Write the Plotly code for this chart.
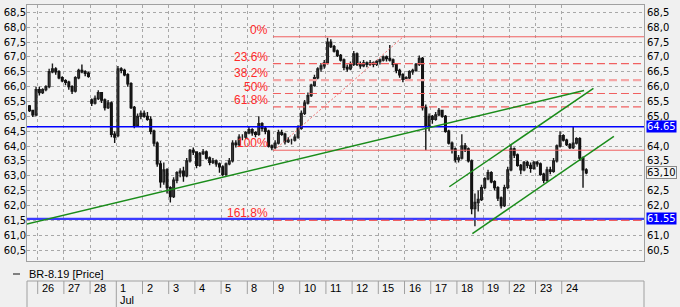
import plotly.graph_objects as go

# ---------------- data ----------------
day_labels = ["25", "26", "27", "28", "1", "2", "3", "4", "5", "8", "9", "10",
              "11", "12", "15", "16", "17", "18", "19", "22", "23", "24"]
month_labels = ["Jul"]
month_start_day = [3]
bars_per_day = [3] + [8] * 21

opens = [
    65.35, 65.2, 65.05,
    65.9, 65.8, 65.9, 66.0, 66.5, 66.6, 66.5, 66.3,
    66.2, 66.15, 66.0, 65.85, 66.3, 66.55, 66.5, 66.45,
    65.55, 65.45, 65.6, 65.8, 65.55, 65.3, 65.45, 64.4,
    64.35, 66.6, 66.55, 66.4, 66.1, 65.3, 64.7, 65.0,
    65.1, 65.0, 64.9, 64.5, 64.1, 63.4, 62.8, 63.2,
    62.6, 62.3, 62.85, 63.1, 63.15, 63.0, 63.5, 63.85,
    63.8, 63.35, 63.75, 63.8, 63.6, 63.45, 63.5, 63.4,
    63.3, 63.05, 63.4, 63.5, 64.1, 64.05, 64.3, 64.3,
    64.45, 64.55, 64.45, 64.4, 64.75, 64.6, 64.5, 64.0,
    63.95, 64.1, 64.45, 64.4, 64.15, 64.2, 64.2, 64.3,
    64.6, 65.1, 65.45, 65.7, 66.05, 66.3, 66.6, 66.7,
    66.8, 67.5, 67.35, 67.2, 67.05, 66.9, 66.65, 66.6,
    66.75, 67.1, 66.75, 66.7, 66.8, 66.75, 66.8, 66.75,
    66.85, 66.9, 67.0, 66.95, 66.9, 66.75, 66.55, 66.4,
    66.25, 66.3, 66.5, 66.55, 66.75, 66.95, 65.3, 64.7,
    65.0, 64.9, 65.05, 65.2, 65.0, 64.5, 64.1, 63.9,
    63.55, 63.6, 64.0, 63.9, 63.5, 61.9, 62.1, 62.2,
    62.6, 62.9, 63.1, 62.8, 62.6, 62.25, 62.0, 62.6,
    63.2, 63.9, 63.7, 63.35, 63.2, 63.45, 63.35, 63.25,
    63.45, 63.4, 63.05, 62.85, 63.2, 63.15, 63.5, 64.0,
    64.35, 64.2, 64.05, 63.95, 64.1, 64.25, 63.6, 63.2,
]
highs = [
    65.38, 65.22, 66.0,
    66.0, 65.95, 66.05, 66.6, 66.78, 66.65, 66.55, 66.35,
    66.25, 66.2, 66.05, 66.35, 66.6, 66.75, 66.55, 66.5,
    65.6, 65.7, 65.88, 65.82, 65.6, 65.55, 65.5, 64.5,
    66.7, 66.65, 66.6, 66.45, 66.15, 65.35, 65.1, 65.2,
    65.2, 65.15, 65.0, 64.55, 64.15, 63.5, 63.45, 63.25,
    62.65, 62.95, 63.15, 63.25, 63.3, 63.6, 63.9, 63.95,
    63.8, 63.8, 63.9, 63.85, 63.65, 63.6, 63.55, 63.45,
    63.35, 63.45, 63.6, 64.2, 64.2, 64.4, 64.4, 64.5,
    64.65, 64.6, 64.5, 65.0, 64.8, 64.65, 64.55, 64.05,
    64.2, 64.55, 64.55, 64.45, 64.3, 64.25, 64.4, 64.7,
    65.2, 65.55, 65.8, 66.1, 66.4, 66.65, 66.8, 66.9,
    67.65, 67.6, 67.4, 67.25, 67.1, 66.95, 66.75, 66.85,
    67.2, 67.15, 66.85, 66.9, 66.85, 66.9, 66.85, 66.9,
    66.95, 67.05, 67.05, 67.4, 66.95, 66.8, 66.6, 66.45,
    66.35, 66.55, 66.6, 66.8, 67.05, 67.0, 65.4, 65.1,
    65.05, 65.15, 65.28, 65.22, 65.05, 64.55, 64.15, 63.95,
    63.7, 64.4, 64.1, 63.95, 63.55, 62.4, 62.5, 62.7,
    62.95, 63.2, 63.15, 62.85, 62.65, 62.3, 62.7, 63.3,
    64.05, 63.95, 63.75, 63.4, 63.5, 63.5, 63.45, 63.5,
    63.5, 63.45, 63.1, 63.3, 63.3, 63.6, 64.05, 64.5,
    64.4, 64.25, 64.1, 64.65, 64.3, 64.3, 63.65, 63.25,
]
lows = [
    65.15, 64.98, 65.0,
    65.7, 65.75, 65.85, 65.95, 66.45, 66.4, 66.25, 66.15,
    66.05, 65.9, 65.75, 65.8, 66.25, 66.45, 66.35, 66.3,
    65.35, 65.4, 65.55, 65.45, 65.2, 65.25, 64.3, 64.1,
    64.3, 66.45, 66.35, 66.0, 65.25, 64.6, 64.65, 64.9,
    64.95, 64.85, 64.4, 64.0, 63.3, 62.6, 62.7, 62.4,
    62.1, 62.25, 62.75, 62.95, 62.8, 62.95, 63.45, 63.7,
    63.25, 63.3, 63.7, 63.55, 63.35, 63.4, 63.3, 63.1,
    62.98, 63.0, 63.35, 63.45, 63.95, 64.0, 64.2, 64.25,
    64.4, 64.35, 64.3, 64.35, 64.5, 64.4, 63.95, 63.86,
    63.9, 64.05, 64.35, 64.05, 64.1, 64.05, 64.15, 64.25,
    64.55, 65.05, 65.4, 65.65, 66.0, 66.25, 66.5, 66.6,
    66.75, 67.3, 67.15, 67.0, 66.85, 66.55, 66.5, 66.55,
    66.7, 66.7, 66.6, 66.65, 66.65, 66.7, 66.65, 66.7,
    66.75, 66.85, 66.85, 66.85, 66.65, 66.45, 66.3, 66.15,
    66.2, 66.25, 66.4, 66.5, 66.7, 65.2, 63.86, 64.5,
    64.75, 64.85, 65.0, 64.95, 64.45, 64.05, 63.75, 63.45,
    63.45, 63.55, 63.8, 63.45, 61.7, 61.3, 61.8, 62.15,
    62.55, 62.85, 62.75, 62.5, 62.15, 61.9, 61.95, 62.55,
    63.15, 63.6, 63.3, 63.05, 63.15, 63.25, 63.1, 63.2,
    63.3, 63.0, 62.75, 62.8, 63.05, 63.1, 63.45, 63.95,
    64.15, 64.0, 63.9, 63.9, 64.05, 63.5, 62.6, 63.05,
]
closes = [
    65.2, 65.05, 65.9,
    65.8, 65.9, 66.0, 66.5, 66.6, 66.5, 66.3, 66.2,
    66.15, 66.0, 65.85, 66.3, 66.55, 66.5, 66.45, 66.35,
    65.45, 65.6, 65.8, 65.55, 65.3, 65.45, 64.4, 64.3,
    66.6, 66.55, 66.4, 66.1, 65.3, 64.7, 65.0, 65.1,
    65.0, 64.9, 64.5, 64.1, 63.4, 62.8, 63.2, 62.6,
    62.3, 62.85, 63.1, 63.15, 63.0, 63.5, 63.85, 63.8,
    63.35, 63.75, 63.8, 63.6, 63.45, 63.5, 63.4, 63.3,
    63.05, 63.4, 63.5, 64.1, 64.05, 64.3, 64.3, 64.45,
    64.55, 64.45, 64.4, 64.75, 64.6, 64.5, 64.0, 63.95,
    64.1, 64.45, 64.4, 64.15, 64.2, 64.2, 64.3, 64.6,
    65.1, 65.45, 65.7, 66.05, 66.3, 66.6, 66.7, 66.8,
    67.5, 67.35, 67.2, 67.05, 66.9, 66.65, 66.6, 66.75,
    67.1, 66.75, 66.7, 66.8, 66.75, 66.8, 66.75, 66.85,
    66.9, 67.0, 66.95, 66.9, 66.75, 66.55, 66.4, 66.25,
    66.3, 66.5, 66.55, 66.75, 66.95, 65.3, 64.7, 65.0,
    64.9, 65.05, 65.2, 65.0, 64.5, 64.1, 63.9, 63.55,
    63.6, 64.0, 63.9, 63.5, 61.9, 62.1, 62.2, 62.6,
    62.9, 63.1, 62.8, 62.6, 62.25, 62.0, 62.6, 63.2,
    63.9, 63.7, 63.35, 63.2, 63.45, 63.35, 63.25, 63.45,
    63.4, 63.05, 62.85, 63.2, 63.15, 63.5, 64.0, 64.35,
    64.2, 64.05, 63.95, 64.1, 64.25, 63.6, 63.2, 63.1,
]

# price axis ticks
price_ticks = [60.5, 61.0, 61.5, 62.0, 62.5, 63.0, 63.5, 64.0, 64.5,
               65.0, 65.5, 66.0, 66.5, 67.0, 67.5, 68.0, 68.5]

# horizontal support/resistance levels
level_values = [64.65, 61.55]

# Fibonacci retracement drawing
fib_high = 67.68
fib_low = 63.86
fib_start_day = 8.98
fib_pcts = [0, 23.6, 38.2, 50, 61.8, 100, 161.8]
fib_labels = ["0%", "23.6%", "38.2%", "50%", "61.8%", "100%", "161.8%"]
fib_diag_x = [9.03, 13.95]
fib_diag_y = [63.86, 67.68]

# green trend lines (day index, price)
trend_x = [[-0.42, 20.85], [15.71, 21.21], [16.59, 21.99]]
trend_y = [[61.37, 65.87], [62.63, 65.94], [61.05, 64.33]]

series_name = "BR-8.19 [Price]"

# ---------------- build ----------------
X_MIN, X_MAX = -0.408, 23.14
Y_MIN, Y_MAX = 60.13, 68.75
SLOTS = 8

xs = []
for k, n in enumerate(bars_per_day):
    d = k - 1
    for i in range(SLOTS - n, SLOTS):
        xs.append(d + (i + 0.5) / SLOTS)

last = closes[-1]

fig = go.Figure()

# blue levels (under candles)
for lv, w, col in zip(level_values, [1.5, 2.2], ["#0000ff", "#3a3aff"]):
    fig.add_trace(go.Scatter(x=[X_MIN, X_MAX], y=[lv, lv], mode="lines",
                             line=dict(color=col, width=w), hoverinfo="skip",
                             showlegend=False))

# fib lines
rng = fib_high - fib_low
for p in fib_pcts:
    lvl = fib_high - p / 100 * rng
    if p in (0, 100):
        ln = dict(color="#f06060", width=1)
    elif p == 38.2:
        ln = dict(color="#f4a6a6", width=2.2, dash="8px,4px")
    else:
        ln = dict(color="#f06060", width=1.2, dash="8px,4px")
    fig.add_trace(go.Scatter(x=[fib_start_day, X_MAX], y=[lvl, lvl], mode="lines",
                             line=ln, hoverinfo="skip", showlegend=False))
fig.add_trace(go.Scatter(x=fib_diag_x, y=fib_diag_y, mode="lines",
                         line=dict(color="#f07070", width=1, dash="2px,2px"),
                         hoverinfo="skip", showlegend=False))

# candles
fig.add_trace(go.Candlestick(
    x=xs, open=opens, high=highs, low=lows, close=closes,
    increasing=dict(line=dict(color="#1e1e1e", width=1.4), fillcolor="#8c8c8c"),
    decreasing=dict(line=dict(color="#111111", width=1.4), fillcolor="#222222"),
    whiskerwidth=0, showlegend=False, hoverinfo="skip"))

# green trend lines
for tx, ty in zip(trend_x, trend_y):
    fig.add_trace(go.Scatter(x=tx, y=ty, mode="lines",
                             line=dict(color="#1a8c1a", width=1.5),
                             hoverinfo="skip", showlegend=False))

# dummy trace for left axis
fig.add_trace(go.Scatter(x=[None], y=[None], yaxis="y2", showlegend=False, hoverinfo="skip"))

TICK_FONT = dict(family="DejaVu Sans", size=10, color="#000000")
GRID = "#a8a8a8"

def fmt(v):
    return f"{v:.1f}".replace(".", ",")

# right-side labels hidden where the value boxes sit
box_values = level_values + [last]
right_text = []
for t in price_ticks:
    hidden = any(abs(t - b) < 0.2 for b in box_values)
    right_text.append("" if hidden else fmt(t))
left_text = [fmt(t) for t in price_ticks]

fig.update_layout(
    width=680, height=307,
    margin=dict(l=27, r=36, t=5, b=46),
    paper_bgcolor="#f0f0f0", plot_bgcolor="#f4f4f4",
    showlegend=False,
    xaxis=dict(range=[X_MIN, X_MAX], tickmode="array",
               tickvals=list(range(0, len(day_labels) - 1)),
               showticklabels=False, ticks="", showgrid=True, gridcolor=GRID,
               griddash="dot", gridwidth=1, zeroline=False,
               showline=True, mirror=True, linecolor="#a0a0a0", linewidth=1,
               rangeslider=dict(visible=False), fixedrange=True),
    yaxis=dict(range=[Y_MIN, Y_MAX], side="right", tickmode="array",
               tickvals=price_ticks, ticktext=right_text,
               tickfont=TICK_FONT, ticks="", showgrid=True,
               gridcolor=GRID, griddash="dot", gridwidth=1, zeroline=False,
               showline=True, mirror=True, linecolor="#a0a0a0", linewidth=1),
    yaxis2=dict(range=[Y_MIN, Y_MAX], overlaying="y", side="left",
                tickmode="array", tickvals=price_ticks, ticktext=left_text,
                tickfont=TICK_FONT, ticks="",
                showgrid=False, zeroline=False, showline=False),
)

ann = []
shapes = []
H = 256.0  # plot height px
W = 617.0

def py(ypx):
    return (261 - ypx) / H

# fib labels
for p, lab in zip(fib_pcts, fib_labels):
    lvl = fib_high - p / 100 * rng
    ann.append(dict(x=fib_start_day, xref="x", y=lvl, yref="y", text=lab,
                    xanchor="right", yanchor="bottom", xshift=-3, yshift=-2,
                    showarrow=False,
                    font=dict(family="Liberation Sans", size=12, color="#ff2a2a")))

# right axis boxes
for lv in level_values:
    ann.append(dict(x=1, xref="paper", y=lv, yref="y", text=f"{lv:.2f}",
                    xanchor="left", xshift=2, showarrow=False, bgcolor="#0000ff",
                    borderpad=0, font=dict(family="DejaVu Sans", size=10, color="#ffffff")))
ann.append(dict(x=1, xref="paper", y=last, yref="y", text=f"{last:.2f}".replace(".", ","),
                xanchor="left", xshift=2, showarrow=False, bgcolor="#f4f4f4",
                bordercolor="#8a8a8a", borderwidth=1, borderpad=0,
                font=dict(family="DejaVu Sans", size=10, color="#000000")))

# legend
ann.append(dict(x=0, xref="paper", y=py(274), yref="paper", text=series_name,
                xanchor="left", yanchor="middle", showarrow=False,
                font=dict(family="Liberation Sans", size=11, color="#000000")))
shapes.append(dict(type="line", xref="paper", yref="paper",
                   x0=-14 / W, x1=-7 / W, y0=py(274), y1=py(274),
                   line=dict(color="#808080", width=2)))

# date row
line_col = "#a0a0a0"
shapes.append(dict(type="line", xref="paper", yref="paper", x0=0, x1=1,
                   y0=py(281), y1=py(281), line=dict(color=line_col, width=1)))
shapes.append(dict(type="line", xref="paper", yref="paper", x0=0, x1=0,
                   y0=py(281), y1=py(307), line=dict(color=line_col, width=1)))
shapes.append(dict(type="line", xref="paper", yref="paper", x0=1, x1=1,
                   y0=py(281), y1=py(307), line=dict(color=line_col, width=1)))
for k, lab in enumerate(day_labels):
    d = k - 1
    if d >= 0:
        shapes.append(dict(type="line", xref="x", yref="paper", x0=d, x1=d,
                           y0=py(281), y1=py(294), line=dict(color=line_col, width=1)))
        ann.append(dict(x=d, xref="x", y=py(288), yref="paper", text=lab,
                        xanchor="left", yanchor="middle", xshift=2, showarrow=False,
                        font=dict(family="Liberation Sans", size=11, color="#000000")))
for lab, d in zip(month_labels, month_start_day):
    shapes.append(dict(type="line", xref="x", yref="paper", x0=d, x1=d,
                       y0=py(294), y1=py(307), line=dict(color=line_col, width=1)))
    ann.append(dict(x=d, xref="x", y=py(300), yref="paper", text=lab,
                    xanchor="left", yanchor="middle", xshift=2, showarrow=False,
                    font=dict(family="Liberation Sans", size=11, color="#000000")))

fig.update_layout(annotations=ann, shapes=shapes)
fig.write_html("out.html")
